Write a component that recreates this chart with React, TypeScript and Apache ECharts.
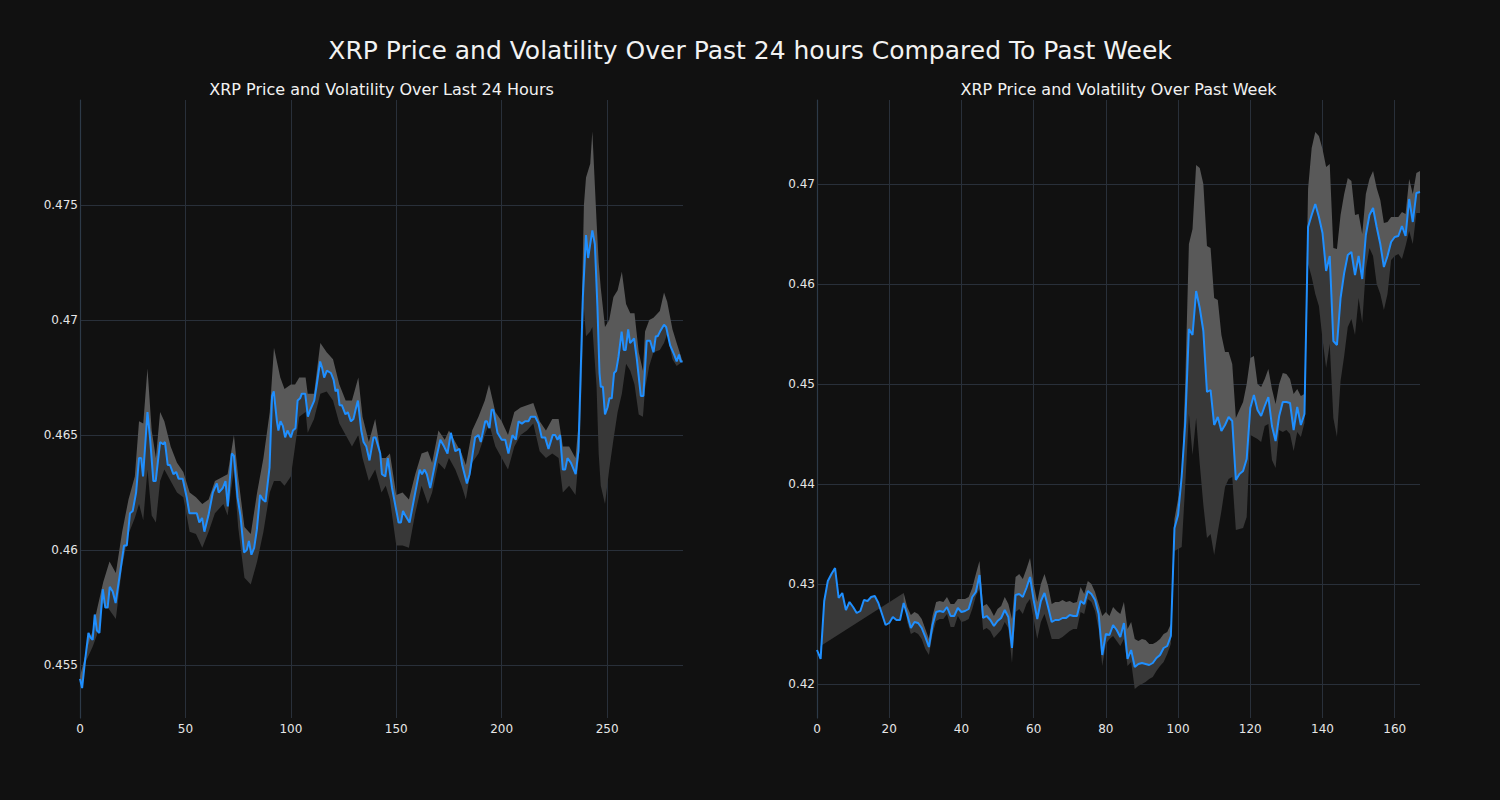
import React, { useEffect, useRef } from "react";
import * as echarts from "echarts";

// ---------- Left panel: last 24 hours (5-min steps) ----------
const leftPriceX = [
  0, 1, 2.4, 4, 5, 6, 7, 8, 9.2, 10.8, 12, 13.1, 14.1, 15.5, 16.9, 19, 20.9, 22.2, 23.7, 25, 26.6, 28, 29, 29.9,
  32, 33.2, 34.8, 35.9, 38, 39.4, 40.3, 41.6, 42.7, 44.3, 45.6, 46.8, 48.7, 50.6, 51.9, 53.8, 55.4, 56.6, 57.9,
  59, 60.9, 63, 64.9, 65.8, 67.7, 69, 70.1, 72, 73, 74.7, 76.1, 77.8, 79.1, 80.1, 81.3, 82.6, 83.9, 85.4, 86.7,
  88, 89.9, 91.1, 91.9, 93.4, 94.1, 95.1, 96.2, 97.3, 98.4, 100, 101, 102.2, 103.2, 104.4, 105.2, 106.8, 108.1,
  109.2, 111.1, 112.3, 113.9, 114.9, 115.8, 117.1, 119, 120.3, 121.2, 122.2, 123.1, 124.2, 125.9, 127, 128.5,
  129.7, 130.7, 131.8, 133.4, 134.5, 135.8, 137.3, 139.2, 140.2, 142.4, 143.2, 144.8, 146, 148, 151.1, 152.2,
  153.2, 154.3, 156.3, 159, 161.1, 162.2, 163.4, 164.5, 166.1, 168.5, 170.9, 172.7, 174.3, 175.9, 178, 180,
  181.3, 183.5, 184.8, 187.4, 189, 190.1, 192.2, 193, 194.2, 195.2, 196.1, 198, 200, 201.7, 203.2, 205.1, 206.7,
  208, 209.6, 211.1, 212.7, 213.8, 215.9, 217.5, 219, 220.6, 222.2, 224.2, 225.4, 226.5, 227.7, 229, 230.1,
  231.2, 232.8, 235.1, 236.4, 238.5, 240, 241, 243, 244.2, 245.4, 246.4, 247, 248, 249, 250.2, 251.1, 252.2,
  253.3, 254.3, 255.4, 256.9, 257.9, 258.8, 260, 260.9, 262.8, 264.1, 266, 267.2, 268.8, 270.4, 272, 273.1, 274,
  275.1, 277, 278, 279.9, 281.8, 283, 284.1, 284.9, 285.8,
];
const leftPrice = [
  0.4544, 0.454, 0.4552, 0.4564, 0.4562, 0.4561, 0.4572, 0.4565, 0.4564, 0.4583, 0.4575, 0.4575, 0.4584, 0.4582,
  0.4577, 0.459, 0.4602, 0.4602, 0.4616, 0.4617, 0.4625, 0.464, 0.464, 0.4632, 0.466, 0.4649, 0.463, 0.463,
  0.4647, 0.4646, 0.4647, 0.4637, 0.4637, 0.4633, 0.4634, 0.4631, 0.4631, 0.4623, 0.4616, 0.4616, 0.4616,
  0.4612, 0.4614, 0.4608, 0.4615, 0.4625, 0.4629, 0.4625, 0.4627, 0.463, 0.4619, 0.4642, 0.4641, 0.4623,
  0.4615, 0.4599, 0.46, 0.4604, 0.4598, 0.4601, 0.4609, 0.4624, 0.4622, 0.4621, 0.4636, 0.4667, 0.4669,
  0.4656, 0.4652, 0.4656, 0.4654, 0.4649, 0.4652, 0.4649, 0.4652, 0.4653, 0.4665, 0.4666, 0.4668, 0.4668,
  0.4658, 0.4661, 0.4665, 0.4672, 0.4682, 0.4679, 0.4675, 0.4678, 0.4677, 0.4674, 0.4669, 0.467, 0.4663,
  0.4663, 0.4659, 0.466, 0.4656, 0.4657, 0.4661, 0.4665, 0.4652, 0.4647, 0.4645, 0.4639, 0.4649, 0.4649,
  0.4642, 0.4633, 0.4632, 0.464, 0.4627, 0.4612, 0.4612, 0.4617, 0.4615, 0.4612, 0.4625, 0.4635, 0.4633,
  0.4635, 0.4633, 0.4627, 0.4638, 0.4648, 0.4645, 0.4642, 0.4651, 0.4643, 0.4644, 0.4637, 0.4629, 0.4633,
  0.4649, 0.465, 0.4647, 0.4656, 0.4656, 0.4653, 0.4661, 0.4661, 0.4651, 0.4648, 0.4648, 0.4642, 0.465,
  0.4648, 0.4656, 0.4655, 0.4656, 0.4656, 0.4658, 0.4658, 0.4655, 0.4649, 0.4649, 0.4644, 0.465, 0.465,
  0.4648, 0.465, 0.4635, 0.4635, 0.464, 0.4638, 0.4633, 0.4643, 0.471, 0.4737, 0.4727, 0.4739, 0.4733,
  0.4706, 0.4677, 0.4671, 0.4671, 0.4659, 0.4662, 0.4666, 0.4666, 0.4677, 0.4678, 0.4684, 0.4695, 0.4687,
  0.4687, 0.4696, 0.469, 0.4692, 0.4683, 0.4667, 0.4667, 0.4691, 0.4691, 0.4686, 0.4693, 0.4693, 0.4695,
  0.4698, 0.4697, 0.4689, 0.4685, 0.4682, 0.4685, 0.4682, 0.4682,
];
const leftBandX = [
  0, 3, 6, 8, 11, 14, 17, 20, 23, 26, 28, 30, 32, 34, 36, 38, 40, 43, 46, 49, 52, 55, 58, 61, 64, 68, 70, 73, 75,
  78, 81, 84, 87, 90, 92, 95, 97, 100, 102, 104, 107, 108, 111, 114, 117, 120, 123, 126, 129, 132, 134, 137, 140,
  143, 145, 147, 150, 153, 156, 159, 162, 165, 167, 170, 173, 175, 178, 181, 183, 186, 189, 192, 194, 197, 200,
  203, 206, 209, 212, 215, 218, 221, 224, 227, 229, 232, 235, 237, 239, 240, 242, 243, 245, 246, 247, 249, 251,
  253, 255, 257, 259, 261, 263, 265, 267, 268, 270, 272, 275, 277, 278.5, 281, 283, 286,
];
const leftUpper = [
  0.4545, 0.4556, 0.4565, 0.4574, 0.4586, 0.4595, 0.459, 0.4608, 0.4622, 0.4632, 0.4656, 0.4655, 0.4679, 0.4652,
  0.464, 0.466, 0.4656, 0.4645, 0.4638, 0.4634, 0.4625, 0.4623, 0.462, 0.4622, 0.463, 0.4632, 0.4633, 0.465,
  0.4632, 0.461, 0.4607, 0.4625, 0.464, 0.466, 0.4688, 0.4675, 0.467, 0.4672, 0.4672, 0.4675, 0.4675, 0.4668,
  0.4668, 0.469, 0.4686, 0.4683, 0.4672, 0.4665, 0.4665, 0.4675, 0.4658, 0.4647, 0.4657, 0.464, 0.464, 0.4642,
  0.4624, 0.4625, 0.4622, 0.4633, 0.4642, 0.4643, 0.4638, 0.4652, 0.4648, 0.4652, 0.4647, 0.4642, 0.4637,
  0.4652, 0.4658, 0.4665, 0.4672, 0.466, 0.4656, 0.465, 0.466, 0.4662, 0.4663, 0.4664, 0.4656, 0.4652, 0.4657,
  0.4657, 0.4645, 0.4645, 0.464, 0.466, 0.475, 0.4762, 0.4768, 0.4782, 0.4743, 0.4725, 0.4714, 0.4697, 0.47,
  0.471, 0.4713, 0.4721, 0.4707, 0.4703, 0.4703, 0.4686, 0.4678, 0.4695, 0.47, 0.4701, 0.4704, 0.4712, 0.4708,
  0.4696, 0.469, 0.4688,
];
const leftLower = [
  0.4543, 0.4552, 0.4558, 0.4563, 0.4577, 0.4574, 0.457, 0.4593, 0.4607, 0.4614, 0.462, 0.4613, 0.4635, 0.4615,
  0.4612, 0.463, 0.4635, 0.463, 0.4625, 0.4623, 0.4608, 0.4607, 0.4601, 0.4608, 0.4616, 0.462, 0.4615, 0.4635,
  0.461, 0.4588, 0.4585, 0.4595, 0.4608, 0.4625, 0.463, 0.463, 0.4628, 0.4632, 0.4645, 0.4658, 0.466, 0.4651,
  0.4657, 0.4668, 0.4669, 0.4665, 0.4655, 0.465, 0.4645, 0.465, 0.464, 0.463, 0.4635, 0.4625, 0.4628, 0.4622,
  0.4602, 0.4602, 0.4601, 0.4616, 0.4628, 0.462, 0.4625, 0.4638, 0.4635, 0.464, 0.4635, 0.4628, 0.4622, 0.4638,
  0.4642, 0.465, 0.4655, 0.4645, 0.464, 0.4635, 0.4645, 0.465, 0.4652, 0.4655, 0.4643, 0.464, 0.4642, 0.464,
  0.4625, 0.4628, 0.4624, 0.4645, 0.4705, 0.4693, 0.4695, 0.4697, 0.4671, 0.4642, 0.4628, 0.462, 0.4635,
  0.4648, 0.466, 0.4668, 0.4681, 0.4678, 0.4672, 0.4659, 0.4658, 0.467, 0.468, 0.4686, 0.4687, 0.469, 0.4694,
  0.4683, 0.468, 0.4678,
];

// ---------- Right panel: past week (hourly) ----------
const rightPrice = [
  0.4234, 0.4225, 0.4283, 0.4303, 0.431, 0.4316, 0.4286, 0.4291, 0.4274, 0.4282, 0.4277, 0.4271, 0.4273, 0.4284,
  0.4283, 0.4287, 0.4288, 0.4281, 0.427, 0.4259, 0.4261, 0.4267, 0.4264, 0.4264, 0.4281, 0.4269, 0.4256, 0.4262,
  0.4261, 0.4256, 0.4247, 0.4237, 0.4259, 0.4272, 0.4273, 0.4272, 0.4277, 0.4268, 0.4268, 0.4276, 0.4272, 0.4273,
  0.4275, 0.4287, 0.4292, 0.4309, 0.4266, 0.4268, 0.4264, 0.4258, 0.4263, 0.4266, 0.4274, 0.4267, 0.4236, 0.4289,
  0.429, 0.4287, 0.4296, 0.4307, 0.4284, 0.4265, 0.4283, 0.4291, 0.4277, 0.4262, 0.4264, 0.4264, 0.4266, 0.4266,
  0.4269, 0.4268, 0.4268, 0.4283, 0.428, 0.4293, 0.429, 0.4284, 0.427, 0.4229, 0.425, 0.4249, 0.4259, 0.4254,
  0.4247, 0.4261, 0.4225, 0.4234, 0.4217, 0.422, 0.4221, 0.422, 0.4219, 0.4221, 0.4226, 0.4229, 0.4236, 0.4238,
  0.4248, 0.4356, 0.4369, 0.4408, 0.4462, 0.4555, 0.4549, 0.4593, 0.4576, 0.4553, 0.4492, 0.4494, 0.4459, 0.4467,
  0.4453, 0.4459, 0.4467, 0.4463, 0.4404, 0.441, 0.4413, 0.4425, 0.4476, 0.4489, 0.4474, 0.4468, 0.4478, 0.4487,
  0.4458, 0.4443, 0.4468, 0.4482, 0.4482, 0.4481, 0.4454, 0.4477, 0.4459, 0.447, 0.4657, 0.4669, 0.468, 0.4667,
  0.4651, 0.4613, 0.4628, 0.4543, 0.4539, 0.4586, 0.4611, 0.4629, 0.4632, 0.4609, 0.4628, 0.4605, 0.4649, 0.4669,
  0.4676, 0.4657, 0.464, 0.4617, 0.4628, 0.4642, 0.4647, 0.4648, 0.4658, 0.4648, 0.4685, 0.4662, 0.4691, 0.4692,
];
const rightUpperStart = 24;
const rightUpper = [
  0.4291, 0.4277, 0.4269, 0.4272, 0.427, 0.4265, 0.4255, 0.4245, 0.4268, 0.4282, 0.4283, 0.4282, 0.4287, 0.428,
  0.428, 0.4285, 0.4285, 0.4285, 0.4287, 0.4296, 0.431, 0.4323, 0.4278, 0.428, 0.4275, 0.4268, 0.4275, 0.4278,
  0.4287, 0.428, 0.4265, 0.4307, 0.431, 0.4305, 0.4315, 0.4326, 0.43, 0.4282, 0.43, 0.431, 0.4298, 0.428, 0.4282,
  0.4282, 0.4284, 0.4282, 0.4283, 0.4281, 0.4282, 0.4297, 0.429, 0.4303, 0.43, 0.4292, 0.428, 0.4268, 0.4272,
  0.4268, 0.4277, 0.4273, 0.427, 0.4282, 0.4255, 0.4262, 0.4245, 0.4243, 0.4245, 0.4244, 0.424, 0.424, 0.4242,
  0.4245, 0.425, 0.4252, 0.426, 0.4365, 0.4385, 0.44, 0.4503, 0.464, 0.4655, 0.4719, 0.4716, 0.47, 0.4638,
  0.4636, 0.4586, 0.4584, 0.4549, 0.4532, 0.4532, 0.452, 0.4466, 0.4474, 0.4482, 0.45, 0.4526, 0.4528, 0.45,
  0.4497, 0.4505, 0.4515, 0.4495, 0.448, 0.45, 0.4511, 0.451, 0.4505, 0.449, 0.4495, 0.4488, 0.449, 0.4695,
  0.4736, 0.4752, 0.4748, 0.4735, 0.4717, 0.472, 0.4636, 0.4635, 0.4669, 0.469, 0.4706, 0.4703, 0.4669, 0.467,
  0.465, 0.469, 0.4705, 0.4713, 0.4696, 0.4684, 0.4661, 0.4662, 0.4667, 0.4667, 0.4667, 0.4672, 0.467, 0.4705,
  0.469, 0.4711, 0.4713,
];
const rightLowerX = [
  1, 24, 25, 26, 27, 28, 29, 30, 31, 32, 33, 34, 35, 36, 37, 38, 39, 40, 41, 42, 43, 44, 45, 46, 47, 48, 49, 50,
  51, 52, 53, 54, 55, 56, 57, 58, 59, 60, 61, 62, 63, 64, 65, 66, 67, 68, 69, 70, 71, 72, 73, 74, 75, 76, 77, 78,
  79, 80, 81, 82, 83, 84, 85, 86, 87, 88, 89, 90, 91, 92, 93, 94, 95, 96, 97, 98, 99, 100, 101, 102, 103, 104,
  105, 106, 107, 108, 109, 110, 111, 112, 113, 114, 115, 116, 117, 118, 119, 120, 121, 122, 123, 124, 125, 126,
  127, 128, 129, 130, 131, 132, 133, 134, 135, 136, 137, 138, 139, 140, 141, 142, 143, 144, 145, 146, 147, 148,
  149, 150, 151, 152, 153, 154, 155, 156, 157, 158, 159, 160, 161, 162, 163, 164, 165, 166, 167,
];
const rightLower = [
  0.4238, 0.4291, 0.4262, 0.425, 0.4252, 0.425, 0.4245, 0.4235, 0.4229, 0.425, 0.4263, 0.4265, 0.4265, 0.427,
  0.4257, 0.4257, 0.4268, 0.4262, 0.4263, 0.4265, 0.4275, 0.4288, 0.4295, 0.4254, 0.4256, 0.4253, 0.4246, 0.425,
  0.4254, 0.4262, 0.4256, 0.4221, 0.4272, 0.4275, 0.427, 0.428, 0.4285, 0.4265, 0.4245, 0.4262, 0.427, 0.4258,
  0.4245, 0.4245, 0.4245, 0.4247, 0.425, 0.4253, 0.4255, 0.4255, 0.4272, 0.427, 0.4285, 0.4282, 0.4273, 0.4255,
  0.4218, 0.424, 0.4245, 0.4248, 0.4243, 0.4238, 0.4245, 0.4218, 0.4222, 0.4195, 0.4198, 0.42, 0.4202, 0.4205,
  0.4207, 0.4213, 0.4218, 0.4222, 0.423, 0.424, 0.4333, 0.4335, 0.4337, 0.44, 0.447, 0.4429, 0.4466, 0.442,
  0.4379, 0.4346, 0.435, 0.4329, 0.4352, 0.4373, 0.4397, 0.4405, 0.4407, 0.4354, 0.4355, 0.4356, 0.4367, 0.4449,
  0.4447, 0.4445, 0.4442, 0.4458, 0.446, 0.4424, 0.4416, 0.4454, 0.4452, 0.4454, 0.445, 0.4433, 0.4452, 0.4447,
  0.4461, 0.462, 0.4607, 0.459, 0.4578, 0.4545, 0.4516, 0.454, 0.4466, 0.4447, 0.4503, 0.4528, 0.4557, 0.4565,
  0.4549, 0.4586, 0.4561, 0.4615, 0.4636, 0.4628, 0.46, 0.459, 0.4574, 0.459, 0.4624, 0.4628, 0.463, 0.4625,
  0.4638, 0.4653, 0.464, 0.4671, 0.4671,
];

const leftXTicks = { min: 0, max: 286, step: 50 };
const rightXTicks = { min: 0, max: 167, step: 20 };
const leftYRange = { min: 0.4527, max: 0.47957, step: 0.005 };
const rightYRange = { min: 0.4166, max: 0.4784, step: 0.01 };

const BG = "#111111";
const GRID = "#29303a";
const SPINE = "#2d3a48";
const TEXT = "#e6e6e6";
const LINE = "#1f8fff";
const LIGHT = "#595959";
const DARK = "#383838";
const FONT = "DejaVu Sans";

type P = [number, number];
const zip = (xs: number[], ys: number[]): P[] => ys.map((y, i) => [xs[i], y]);

function bandPoints(api: any, a: P[], b: P[]) {
  const x0 = Math.max(a[0][0], b[0][0]);
  const x1 = Math.min(a[a.length - 1][0], b[b.length - 1][0]);
  const A = a.filter((p) => p[0] >= x0 && p[0] <= x1);
  const B = b.filter((p) => p[0] >= x0 && p[0] <= x1).reverse();
  return [...A, ...B].map((p) => api.coord(p));
}

const multipleOf = (v: number, step: number) => Math.abs(v / step - Math.round(v / step)) < 1e-6;

function xAxis(idx: number, t: { min: number; max: number; step: number }) {
  return {
    type: "value",
    gridIndex: idx,
    min: t.min,
    max: t.max,
    interval: t.step,
    axisLine: { show: false },
    axisTick: { show: false },
    splitLine: { show: true, showMinLine: false, showMaxLine: false, lineStyle: { color: GRID, width: 1 } },
    axisLabel: {
      color: TEXT,
      fontSize: 12,
      fontFamily: FONT,
      margin: 5,
      formatter: (v: number) => (multipleOf(v, t.step) ? String(Math.round(v)) : ""),
    },
  };
}

function yAxis(idx: number, r: { min: number; max: number; step: number }) {
  return {
    type: "value",
    gridIndex: idx,
    min: r.min,
    max: r.max,
    splitNumber: 5,
    axisLine: { show: true, lineStyle: { color: SPINE, width: 1.2 } },
    axisTick: { show: false },
    splitLine: { show: true, showMinLine: false, showMaxLine: false, lineStyle: { color: GRID, width: 1 } },
    axisLabel: {
      color: TEXT,
      fontSize: 12,
      fontFamily: FONT,
      margin: 2,
      showMinLabel: false,
      showMaxLabel: false,
      formatter: (v: number) => (multipleOf(v, r.step) ? String(parseFloat(v.toFixed(4))) : ""),
    },
  };
}

function panelSeries(idx: number, price: P[], upper: P[], lower: P[]) {
  return [
    {
      type: "custom",
      xAxisIndex: idx,
      yAxisIndex: idx,
      silent: true,
      z: 1,
      data: [price[0]],
      renderItem: (_params: any, api: any) => ({
        type: "group",
        children: [
          { type: "polygon", shape: { points: bandPoints(api, lower, price) }, style: { fill: DARK } },
          { type: "polygon", shape: { points: bandPoints(api, price, upper) }, style: { fill: LIGHT } },
        ],
      }),
    },
    {
      type: "line",
      xAxisIndex: idx,
      yAxisIndex: idx,
      data: price,
      showSymbol: false,
      symbol: "none",
      z: 3,
      lineStyle: { color: LINE, width: 2 },
    },
  ];
}

export default function App() {
  const ref = useRef<HTMLDivElement>(null);

  useEffect(() => {
    document.body.style.margin = "0";
    document.body.style.background = BG;
    const chart = echarts.init(ref.current!, null, { renderer: "svg" });

    const lPrice = zip(leftPriceX, leftPrice);
    const lUpper = zip(leftBandX, leftUpper);
    const lLower = zip(leftBandX, leftLower);
    const rPrice: P[] = rightPrice.map((v, i) => [i, v]);
    const rUpper: P[] = rightUpper.map((v, i) => [rightUpperStart + i, v]);
    const rLower = zip(rightLowerX, rightLower);

    chart.setOption({
      animation: false,
      backgroundColor: BG,
      textStyle: { fontFamily: FONT },
      title: [
        {
          text: "XRP Price and Volatility Over Past 24 hours Compared To Past Week",
          left: "center",
          top: 37.5,
          padding: 0,
          textStyle: { color: "#f2f2f2", fontSize: 25, fontWeight: "normal", fontFamily: FONT },
        },
        {
          text: "XRP Price and Volatility Over Last 24 Hours",
          left: 381.5,
          textAlign: "center",
          top: 81,
          padding: 0,
          textStyle: { color: "#f2f2f2", fontSize: 16, fontWeight: "normal", fontFamily: FONT },
        },
        {
          text: "XRP Price and Volatility Over Past Week",
          left: 1118.5,
          textAlign: "center",
          top: 81,
          padding: 0,
          textStyle: { color: "#f2f2f2", fontSize: 16, fontWeight: "normal", fontFamily: FONT },
        },
      ],
      grid: [
        { left: 80, top: 100, width: 603, height: 618 },
        { left: 817, top: 100, width: 603, height: 618 },
      ],
      xAxis: [xAxis(0, leftXTicks), xAxis(1, rightXTicks)],
      yAxis: [yAxis(0, leftYRange), yAxis(1, rightYRange)],
      series: [...panelSeries(0, lPrice, lUpper, lLower), ...panelSeries(1, rPrice, rUpper, rLower)],
    });

    return () => chart.dispose();
  }, []);

  return <div ref={ref} style={{ width: 1500, height: 800, background: BG }} />;
}
